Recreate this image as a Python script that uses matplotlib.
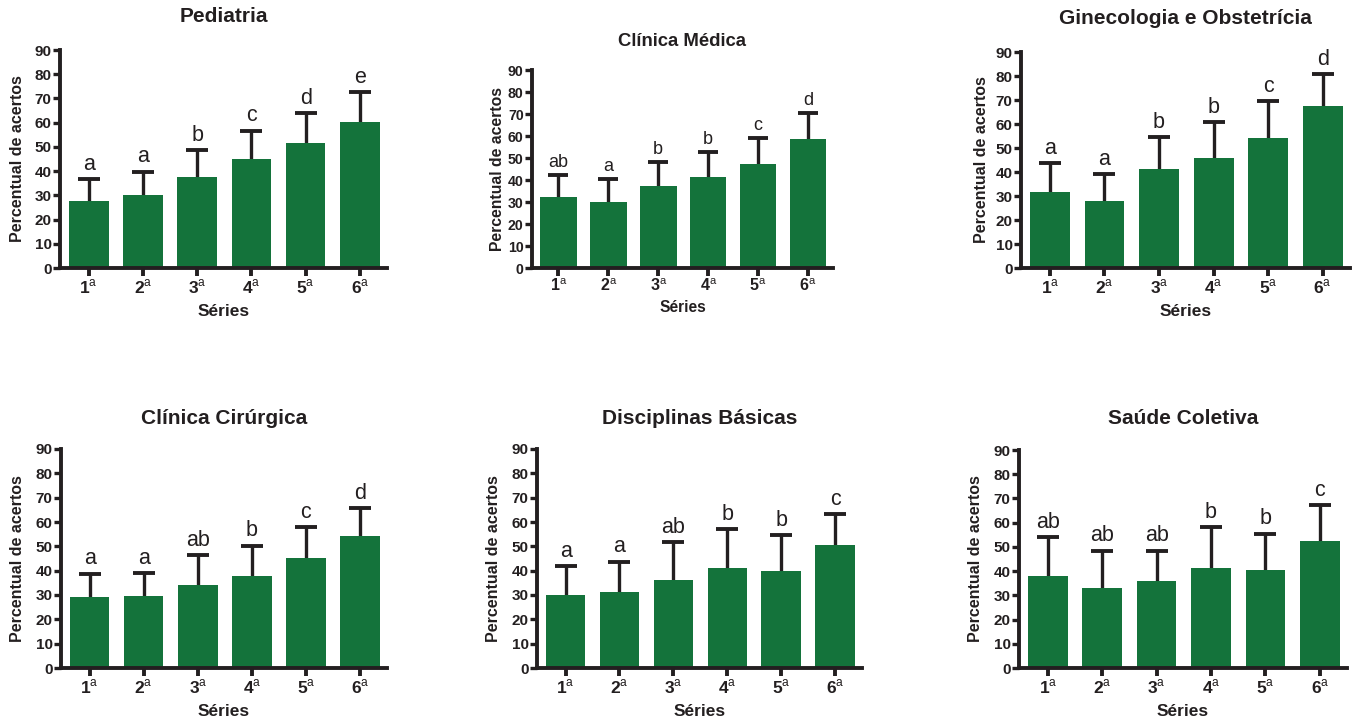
#!/usr/bin/env python3

import numpy as np
import matplotlib
matplotlib.use("Agg")
import matplotlib.pyplot as plt

plt.rcParams["font.family"] = ["Liberation Sans", "DejaVu Sans"]
plt.rcParams["mathtext.fontset"] = "custom"
plt.rcParams["mathtext.rm"] = "Liberation Sans"
plt.rcParams["mathtext.bf"] = "Liberation Sans:bold"

# ---------------------------------------------------------
# Data
# ---------------------------------------------------------
series = ["1", "2", "3", "4", "5", "6"]

titles = ["Pediatria", "Clínica Médica", "Ginecologia e Obstetrícia",
          "Clínica Cirúrgica", "Disciplinas Básicas", "Saúde Coletiva"]

ped_mean = [27.5, 30.2, 37.6, 44.9, 51.8, 60.3]
ped_sd   = [9.2, 9.6, 11.2, 11.8, 12.3, 12.4]
ped_let  = ["a", "a", "b", "c", "d", "e"]

med_mean = [32.1, 29.8, 37.5, 41.5, 47.4, 58.5]
med_sd   = [10.3, 10.6, 10.8, 11.3, 11.5, 11.8]
med_let  = ["ab", "a", "b", "b", "c", "d"]

gin_mean = [31.5, 28.1, 41.1, 45.7, 54.1, 67.3]
gin_sd   = [12.1, 11.2, 13.4, 15.2, 15.3, 13.6]
gin_let  = ["a", "a", "b", "b", "c", "d"]

cir_mean = [29.3, 29.5, 34.2, 37.9, 45.1, 54.4]
cir_sd   = [9.5, 9.4, 12.1, 12.4, 12.8, 11.4]
cir_let  = ["a", "a", "ab", "b", "c", "d"]

bas_mean = [29.9, 31.2, 36.3, 41.1, 39.8, 50.7]
bas_sd   = [12.1, 12.5, 15.5, 15.9, 14.9, 12.6]
bas_let  = ["a", "a", "ab", "b", "b", "c"]

col_mean = [37.9, 33.1, 35.8, 41.1, 40.4, 52.4]
col_sd   = [16.1, 15.4, 12.7, 17.2, 15.1, 14.7]
col_let  = ["ab", "ab", "ab", "b", "b", "c"]

means   = [ped_mean, med_mean, gin_mean, cir_mean, bas_mean, col_mean]
sds     = [ped_sd, med_sd, gin_sd, cir_sd, bas_sd, col_sd]
letters = [ped_let, med_let, gin_let, cir_let, bas_let, col_let]

# ---------------------------------------------------------
# Layout (pixel boxes: left, top, right, bottom) and font sizes
# ---------------------------------------------------------
W, H = 1358, 722
boxes = [(60, 50, 387, 268), (532, 70, 833, 268), (1021, 52, 1350, 268),
         (61, 449, 387, 668), (537, 449, 862, 668), (1019, 450, 1347, 668)]
ylab_x = [17.5, 497, 981, 17.5, 494, 976]
xlab_y = [312, 308, 312, 712, 712, 712]
title_y = [17, 42, 18, 418, 418, 418]

title_fs = [15, 13.3, 15, 15, 15, 15]
ytick_fs = [11, 10.2, 11, 11, 11, 11]
xtick_fs = [12.5, 11.5, 12.5, 12.5, 12.5, 12.5]
ylab_fs  = [11.5, 11.3, 11.5, 11.5, 11.5, 11.5]
xlab_fs  = [12.5, 11.2, 12.5, 12.5, 12.5, 12.5]
let_fs   = [15.5, 13, 15.5, 15.5, 15.5, 15.5]
cap_pt   = [8, 7.3, 8, 8, 8, 8]

GREEN = "#14733b"
INK = "#231f20"

fig = plt.figure(figsize=(W / 100, H / 100), dpi=100)

for i in range(6):
    l, t, r, b = boxes[i]
    ax = fig.add_axes([l / W, (H - b) / H, (r - l) / W, (b - t) / H])
    x = np.arange(len(series))

    ax.bar(x, means[i], width=0.73, color=GREEN, zorder=2)
    eb = ax.errorbar(x, means[i], yerr=[np.zeros(6), sds[i]], fmt="none",
                     ecolor=INK, elinewidth=2.4, capsize=cap_pt[i],
                     capthick=2.8, zorder=1)
    # only the upper cap is drawn in the original
    eb[1][0].set_visible(False)

    for xi, m, sd, lab in zip(x, means[i], sds[i], letters[i]):
        ax.annotate(lab, (xi, m + sd), xytext=(0, 3), textcoords="offset points",
                    ha="center", va="bottom", fontsize=let_fs[i], color=INK)

    ax.set_xlim(-0.53, 5.5)
    ax.set_ylim(0, 90)
    ax.set_yticks(np.arange(0, 91, 10))
    ax.set_xticks(x)
    ax.set_xticklabels([r"$\mathbf{%s}^{\mathrm{a}}$" % n for n in series])

    for sp in ["top", "right"]:
        ax.spines[sp].set_visible(False)
    for sp in ["left", "bottom"]:
        ax.spines[sp].set_linewidth(2.8)
        ax.spines[sp].set_color(INK)

    ax.tick_params(axis="y", direction="out", length=5, width=2.4,
                   labelsize=ytick_fs[i], color=INK, labelcolor=INK, pad=1)
    ax.tick_params(axis="x", direction="out", length=6, width=2.8,
                   labelsize=xtick_fs[i], color=INK, labelcolor=INK, pad=1)
    for lb in ax.get_yticklabels():
        lb.set_fontweight("bold")

    ax.set_ylabel("Percentual de acertos", fontsize=ylab_fs[i],
                  fontweight="bold", color=INK)
    ax.yaxis.set_label_coords((ylab_x[i] - l) / (r - l), 0.5)
    ax.yaxis.label.set_va("center")
    ax.set_xlabel("Séries", fontsize=xlab_fs[i], fontweight="bold", color=INK)
    ax.xaxis.set_label_coords(0.5, (b - xlab_y[i]) / (b - t))
    ax.xaxis.label.set_va("center")

    fig.text((l + r) / 2 / W, 1 - title_y[i] / H, titles[i],
             ha="center", va="center", fontsize=title_fs[i], fontweight="bold",
             color=INK)

fig.savefig("out.png", dpi=100)
plt.close()
